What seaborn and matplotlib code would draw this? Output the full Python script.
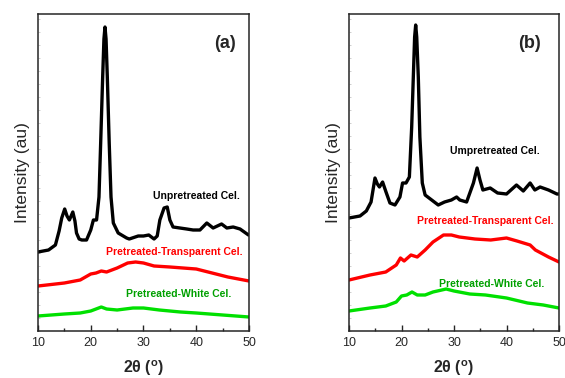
import numpy as np
import pandas as pd
import matplotlib
matplotlib.use('Agg')
import matplotlib.pyplot as plt
from matplotlib.ticker import MultipleLocator
import seaborn as sns

# panel (a) curves (offset intensity, au)
a_raw_x = [10, 12, 13.3, 14.0, 14.5, 15.06, 15.5, 15.95, 16.6, 17.0, 17.3, 17.8, 18.3, 19.2,
           20.0, 20.5, 21.1, 21.56, 21.88, 22.26, 22.5, 22.7, 22.9, 23.14, 23.5, 23.84, 24.28,
           25.2, 26.8, 27.3, 29, 30, 31, 32, 32.6, 33.1, 33.9, 34.5, 35.0, 35.6, 36.9, 38.2,
           39.4, 40.7, 42.0, 43.2, 44.8, 45.8, 47.0, 48.3, 49.9]
a_raw_y = [79, 81, 86, 100, 113, 122, 115, 111, 119, 110, 98, 92, 91, 91,
           101, 111, 111, 134, 188, 254, 292, 304, 292, 254, 188, 134, 108,
           98, 93, 92, 95, 95, 96, 92, 95, 111, 123, 124, 111, 104, 103, 102,
           101, 101, 108, 103, 107, 103, 104, 102, 96]
a_tr_x = [10, 15, 18, 20, 21, 22, 23, 25, 27, 28.5, 30, 32, 35, 40, 43, 46, 50]
a_tr_y = [45, 48, 51, 57, 58, 60, 59, 63, 68, 69, 68, 65, 64, 62, 58, 54, 50]
a_wh_x = [10, 15, 18, 20, 21, 22, 23, 25, 28, 30, 33, 37, 40, 45, 50]
a_wh_y = [15, 17, 18, 20, 22, 24, 22, 21, 23, 23, 21, 19, 18, 16, 14]

# panel (b)
b_raw_x = [10, 12.1, 13.3, 14.2, 14.95, 15.4, 15.8, 16.4, 17.05, 17.8, 18.76, 19.7, 20.2, 20.86,
           21.5, 21.94, 22.25, 22.5, 22.7, 22.9, 23.2, 23.5, 23.96, 24.5, 25.75, 27, 28.2,
           29.5, 30.5, 31.1, 32.4, 33.7, 34.4, 34.95, 35.5, 36.9, 38.3, 40.0, 41.9, 43.2, 44.5,
           45.4, 46.4, 48, 49.6, 50]
b_raw_y = [113, 115, 120, 129, 153, 147, 144, 149, 139, 128, 126, 134, 148, 148,
           154, 204, 254, 294, 306, 294, 254, 194, 148, 136, 131, 126, 129,
           131, 134, 131, 129, 148, 163, 151, 141, 143, 138, 137, 146, 140, 148,
           141, 144, 141, 137, 137]
b_tr_x = [10, 14, 17, 19, 19.8, 20.5, 21.8, 23, 24.5, 26, 28, 29.5, 31, 34, 37, 40, 42, 44.5,
          45.5, 48, 50]
b_tr_y = [51, 56, 59, 66, 73, 70, 76, 74, 81, 89, 96, 96, 94, 92, 91, 93, 90, 86,
          81, 74, 69]
b_wh_x = [10, 14, 17, 19, 20, 21, 22, 23, 24.5, 26, 28.5, 30, 33, 36, 40, 44, 47, 50]
b_wh_y = [20, 23, 25, 29, 35, 36, 39, 36, 36, 39, 42, 40, 37, 36, 33, 28, 26, 23]

labels_a = ['Unpretreated Cel.', 'Pretreated-Transparent Cel.', 'Pretreated-White Cel.']
labels_b = ['Umpretreated Cel.', 'Pretreated-Transparent Cel.', 'Pretreated-White Cel.']
colors = ['#000000', '#ff0000', '#00e000']
text_colors = ['#000000', '#ff0000', '#00a000']

sns.set_style('ticks')
plt.rcParams['font.family'] = ['Liberation Sans', 'DejaVu Sans']
plt.rcParams['mathtext.fontset'] = 'custom'
plt.rcParams['mathtext.rm'] = 'Liberation Sans'
plt.rcParams['mathtext.bf'] = 'Liberation Sans:bold'

fig = plt.figure(figsize=(5.65, 3.78), dpi=100)
ax1 = fig.add_axes([38 / 565, 47 / 378, 211 / 565, 317 / 378])
ax2 = fig.add_axes([349 / 565, 47 / 378, 210 / 565, 317 / 378])


def draw(ax, curves, labels, label_pos, tag, tag_pos, xlab):
    for (x, y), c in zip(curves, colors):
        df = pd.DataFrame({'x': x, 'y': y})
        sns.lineplot(data=df, x='x', y='y', ax=ax, color=c, lw=2.4)
    for lab, (tx, ty), c in zip(labels, label_pos, text_colors):
        ax.text(tx, ty, lab, color=c, fontsize=7.5, fontweight='bold', ha='center', va='center')
    ax.text(tag_pos[0], tag_pos[1], tag, fontsize=13, fontweight='bold', ha='center', va='center')
    ax.set_xlim(10, 50)
    ax.set_ylim(0, 317)
    ax.xaxis.set_major_locator(MultipleLocator(10))
    ax.xaxis.set_minor_locator(MultipleLocator(5))
    ax.yaxis.set_major_locator(MultipleLocator(13))
    ax.set_yticklabels([])
    ax.tick_params(axis='x', which='major', direction='in', length=4, width=1, labelsize=9, pad=4)
    ax.tick_params(axis='x', which='minor', direction='in', length=2, width=1)
    ax.tick_params(axis='y', which='major', direction='in', length=1.5, width=0.4, color='#aaaaaa')
    ax.tick_params(top=False, right=False)
    for s in ax.spines.values():
        s.set_linewidth(1.1)
    ax.set_xlabel(xlab, fontsize=11.5, fontweight='bold', labelpad=7)
    ax.set_ylabel('Intensity (au)', fontsize=12.5, labelpad=2)


draw(ax1, [(a_raw_x, a_raw_y), (a_tr_x, a_tr_y), (a_wh_x, a_wh_y)], labels_a,
     [(40.1, 135), (35.8, 79), (36.7, 37)], '(a)', (45.45, 288), r'2θ ($^{\mathbf{o}}$)')
draw(ax2, [(b_raw_x, b_raw_y), (b_tr_x, b_tr_y), (b_wh_x, b_wh_y)], labels_b,
     [(37.8, 180), (35.9, 110), (37.2, 47)], '(b)', (44.3, 287), r'2θ ($\mathbf{^{o}}$)')

fig.savefig('out.png', dpi=100)
